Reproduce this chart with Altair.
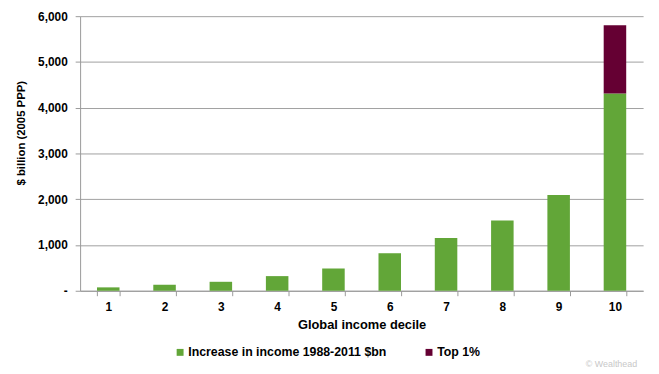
import altair as alt
import pandas as pd

deciles = [1, 2, 3, 4, 5, 6, 7, 8, 9, 10]
increase = [74, 130, 196, 320, 487, 820, 1152, 1533, 2095, 4310]
top1 = [0, 0, 0, 0, 0, 0, 0, 0, 0, 1490]
series_names = ["Increase in income 1988-2011 $bn", "Top 1%"]
series_colors = ["#62A638", "#650033"]
y_ticks = [0, 1000, 2000, 3000, 4000, 5000, 6000]

rows = []
for d, a, b in zip(deciles, increase, top1):
    rows.append({"decile": d, "series": series_names[0], "value": a, "ord": 0})
    if b > 0:
        rows.append({"decile": d, "series": series_names[1], "value": b, "ord": 1})
df = pd.DataFrame(rows)

FONT = "Liberation Sans"

bars = alt.Chart(df).mark_bar().encode(
    x=alt.X("decile:O",
            scale=alt.Scale(paddingInner=0.6, paddingOuter=0.3),
            axis=alt.Axis(title="Global income decile", labelAngle=0,
                          tickBand="extent", labelPadding=6,
                          titlePadding=6)),
    y=alt.Y("value:Q", stack="zero",
            scale=alt.Scale(domain=[0, 6000], nice=False),
            axis=alt.Axis(title="$ billion (2005 PPP)", values=y_ticks,
                          labelExpr="datum.value == 0 ? '-' : format(datum.value, ',')",
                          titleX=-59, titleY=118, titleBaseline="middle",
                          titleFontSize=11.5, labelPadding=8)),
    color=alt.Color("series:N",
                    scale=alt.Scale(domain=series_names, range=series_colors),
                    legend=alt.Legend(title=None, orient="none", direction="horizontal",
                                      legendX=95, legendY=334,
                                      symbolType="square", symbolSize=49,
                                      symbolStrokeWidth=0, labelLimit=0,
                                      labelFontSize=12.5, labelFont=FONT,
                                      labelFontWeight="bold", labelColor="#000",
                                      columnPadding=36, labelOffset=2)),
    order=alt.Order("ord:Q"),
)

mark_df = pd.DataFrame({"t": ["© Wealthead"]})
watermark = alt.Chart(mark_df).mark_text(
    align="left", baseline="middle", fontSize=9, color="#c8c8c8", font=FONT
).encode(text="t:N", x=alt.value(512), y=alt.value(352))

chart = alt.layer(bars, watermark).properties(
    width=570, height=278,
    autosize=alt.AutoSizeParams(type="none"),
    padding={"left": 73, "top": 6, "right": 8, "bottom": 82},
).configure_view(stroke=None).configure_axis(
    labelFont=FONT, titleFont=FONT, labelFontWeight="bold", titleFontWeight="bold",
    labelFontSize=12, titleFontSize=13, labelColor="#000", titleColor="#000",
    domainColor="#999", tickColor="#999", gridColor="#a0a0a0", tickSize=5,
).configure_axisX(grid=False).configure_axisY(grid=True, domain=True)

chart.save("out.html", embed_options={"renderer": "svg", "actions": False})
